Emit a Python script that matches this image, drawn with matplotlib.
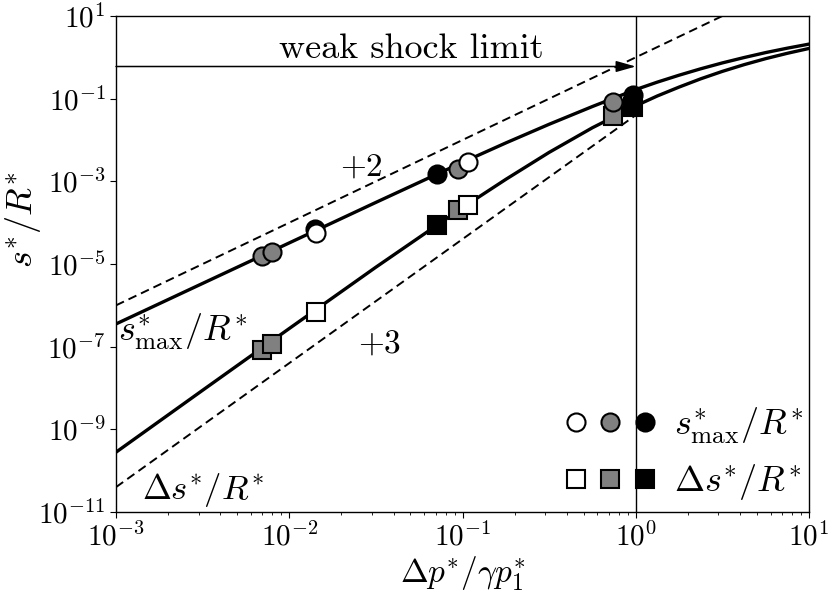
import matplotlib
matplotlib.use('Agg')
import matplotlib.pyplot as plt
from matplotlib.lines import Line2D
from matplotlib.legend_handler import HandlerTuple
from matplotlib.ticker import NullLocator

plt.rcParams['mathtext.fontset'] = 'cm'
plt.rcParams['font.family'] = 'serif'
plt.rcParams['font.serif'] = ['cmr10']
plt.rcParams['axes.unicode_minus'] = False
plt.rcParams['axes.formatter.use_mathtext'] = True

# curves
x_curve = [1e-3, 3.16e-3, 1e-2, 3.16e-2, 0.1, 0.178, 0.316, 0.562,
           1.0, 1.33, 1.78, 2.37, 3.16, 4.22, 5.62, 7.50, 10.0]
smax_curve = [3.55e-7, 3.39e-6, 3.24e-5, 3.09e-4, 2.88e-3, 8.51e-3, 0.0240, 0.0646,
              0.166, 0.251, 0.370, 0.528, 0.733, 0.989, 1.303, 1.667, 2.089]
ds_curve = [2.80e-10, 8.81e-9, 2.75e-7, 8.36e-6, 2.31e-4, 1.12e-3, 5.01e-3, 0.0198,
            0.0671, 0.116, 0.191, 0.302, 0.457, 0.665, 0.929, 1.253, 1.64]

# reference slopes (+2, +3)
slope2_x = [1e-3, 10.0]
slope2_y = [1e-6, 1e2]
slope3_x = [1e-3, 1.0]
slope3_y = [4e-11, 4e-2]

# simulation points: s_max (circles) and delta s (squares)
gray_x = [7.0e-3, 7.9e-3, 0.0946, 0.743]
gray_smax = [1.6e-5, 2.0e-5, 2.0e-3, 0.085]
gray_ds = [8.2e-8, 1.19e-7, 2.07e-4, 0.0371]
white_x = [1.42e-2, 0.107]
white_smax = [5.7e-5, 2.87e-3]
white_ds = [7.0e-7, 2.74e-4]
black_x = [1.41e-2, 0.0711, 0.970]
black_smax = [7.1e-5, 1.53e-3, 0.124]
black_sq_x = [0.0711, 0.970]
black_ds = [9.0e-5, 0.0618]

weak_limit_y = 0.6
xticks = [1e-3, 1e-2, 1e-1, 1e0, 1e1]
xticklabels = [r'$10^{-3}$', r'$10^{-2}$', r'$10^{-1}$', r'$10^{0}$', r'$10^{1}$']
yticks = [1e-11, 1e-9, 1e-7, 1e-5, 1e-3, 1e-1, 1e1]
yticklabels = [r'$10^{-11}$', r'$10^{-9}$', r'$10^{-7}$', r'$10^{-5}$', r'$10^{-3}$', r'$10^{-1}$', r'$10^{1}$']

GRAY = '#808080'

fig = plt.figure(figsize=(8.3, 5.95), dpi=100)
ax = fig.add_axes([0.1398, 0.1395, 0.8349, 0.8336])

ax.plot(x_curve, smax_curve, color='k', lw=2.4, zorder=3)
ax.plot(x_curve, ds_curve, color='k', lw=2.4, zorder=3)
ax.plot(slope2_x, slope2_y, color='k', lw=1.4, ls=(0, (4.5, 2.6)), zorder=2)
ax.plot(slope3_x, slope3_y, color='k', lw=1.4, ls=(0, (4.5, 2.6)), zorder=2)
ax.axvline(1.0, color='k', lw=1.0, zorder=2)

mk = dict(ls='none', ms=13, mec='k', mew=1.5, zorder=4)
ax.plot(black_sq_x, black_ds, marker='s', mfc='k', **mk)
ax.plot(gray_x, gray_ds, marker='s', mfc=GRAY, **mk)
ax.plot(white_x, white_ds, marker='s', mfc='white', **mk)
ax.plot(black_x, black_smax, marker='o', mfc='k', **mk)
ax.plot(gray_x, gray_smax, marker='o', mfc=GRAY, **mk)
ax.plot(white_x, white_smax, marker='o', mfc='white', **mk)

ax.annotate('', xy=(1.0, weak_limit_y), xytext=(1.0e-3, weak_limit_y),
            arrowprops=dict(arrowstyle='-|>,head_length=0.6,head_width=0.17',
                            color='k', lw=1.1, mutation_scale=20,
                            shrinkA=0, shrinkB=0))
ax.text(0.0505, 0.968, 'weak shock limit', fontsize=26, ha='center', va='baseline')
ax.text(0.026, 2.26e-3, r'$+2$', fontsize=24, ha='center', va='center')
ax.text(0.033, 1.14e-7, r'$+3$', fontsize=24, ha='center', va='center')
ax.text(1.03e-3, 2.22e-7, r'$s^{*}_{\max}/R^{\!*}$', fontsize=26, ha='left', va='center')
ax.text(3.18e-3, 3.4e-11, r'$\Delta s^{*}/R^{\!*}$', fontsize=25, ha='center', va='center')

ax.set_xscale('log')
ax.set_yscale('log')
ax.set_xlim(1e-3, 10)
ax.set_ylim(1e-11, 10)
ax.set_xticks(xticks)
ax.set_xticklabels(xticklabels)
ax.set_yticks(yticks)
ax.set_yticklabels(yticklabels)
ax.yaxis.set_minor_locator(NullLocator())
ax.tick_params(which='major', direction='out', length=4.5, width=0.8, labelsize=21, pad=3)
ax.tick_params(which='minor', direction='out', length=2.5, width=0.6)
for sp in ax.spines.values():
    sp.set_linewidth(1.0)

ax.set_xlabel(r'$\Delta p^{*}/\gamma p^{*}_1$', fontsize=24, labelpad=2)
ax.set_ylabel(r'$s^{*}/R^{*}$', fontsize=26)
ax.yaxis.set_label_coords(-0.105, 0.59)

circ = tuple(Line2D([], [], ls='none', marker='o', ms=13, mfc=c, mec='k', mew=1.5)
             for c in ['white', GRAY, 'k'])
squa = tuple(Line2D([], [], ls='none', marker='s', ms=13, mfc=c, mec='k', mew=1.5)
             for c in ['white', GRAY, 'k'])
ax.legend([circ, squa], [r'$s^{*}_{\max}/R^{\!*}$', r'$\Delta s^{*}/R^{\!*}$'],
          handler_map={tuple: HandlerTuple(ndivide=None, pad=0)},
          loc='lower right', bbox_to_anchor=(1.023, -0.024),
          frameon=False, fontsize=26, handlelength=2.9,
          handletextpad=0.3, labelspacing=0.45, borderaxespad=0.2)

fig.savefig('out.png', dpi=100)
